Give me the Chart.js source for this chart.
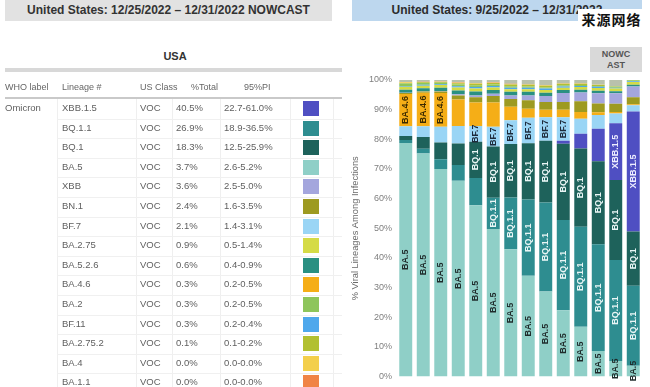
<!DOCTYPE html>
<html>
<head>
<meta charset="utf-8">
<script src="https://cdn.jsdelivr.net/npm/chart.js@4.4.0/dist/chart.umd.min.js"></script>
<style>
  html, body { margin: 0; padding: 0; background: #fff; }
  body { width: 650px; height: 387px; position: relative; overflow: hidden;
         font-family: "Liberation Sans", Arial, sans-serif; }
  .abs { position: absolute; }
  #leftTitle { left: 5px; top: 0; width: 327px; height: 21px; background: #e2e2e2;
               font-weight: bold; font-size: 12px; color: #333; text-align: center; line-height: 21px; }
  #rightTitle { left: 352px; top: 0; width: 290px; height: 21px; background: #bdd7ee;
                font-weight: bold; font-size: 12px; color: #2c2c2c; text-align: center; line-height: 21px; }
  #usa { left: 150px; top: 50px; width: 50px; text-align: center; font-weight: bold; font-size: 11px; color: #333; }
  #thickLine { left: 5px; top: 68px; width: 337px; height: 4px; background: #d8d8d8; }
  #headLine { left: 5px; top: 97px; width: 337px; height: 2px; background: #c9c9c9; }
  .cell { position: absolute; font-size: 9.5px; color: #606060; white-space: nowrap; }
  .head { position: absolute; font-size: 9px; color: #666; white-space: nowrap; top: 82px; }
  .vline { position: absolute; top: 99px; width: 1px; height: 288px; background: #efefef; }
  .hline { position: absolute; left: 57px; width: 285px; height: 1px; background: #f0f0f0; }
  .swatch { position: absolute; left: 303px; width: 16px; height: 15px; }
  #chartBox { left: 340px; top: 0; width: 310px; height: 387px; }
  #nowcast { left: 590px; top: 47px; width: 52px; height: 25px; background: #d9d9d9;
             font-weight: bold; font-size: 9px; line-height: 11px; color: #555; text-align: center;
             padding-top: 2px; box-sizing: border-box; }
  #watermark { left: 578px; top: 9px; width: 67px; height: 21px; background: #fff;
               font-family: "Noto Sans CJK SC", sans-serif; font-weight: bold; font-size: 14px;
               line-height: 21px; color: #111; text-align: center; letter-spacing: 1px; }
</style>
</head>
<body>
<div class="abs" id="chartBox"><canvas id="chart" width="310" height="387"></canvas></div>
<div class="abs" id="leftTitle">United States: 12/25/2022 – 12/31/2022 NOWCAST</div>
<div class="abs" id="rightTitle">United States: 9/25/2022 – 12/31/2022</div>
<div class="abs" id="usa">USA</div>
<div class="abs" id="thickLine"></div>
<div class="abs" id="headLine"></div>
<div id="table"></div>
<div class="abs" id="nowcast">NOWC<br>AST</div>
<div class="abs" id="watermark">来源网络</div>
<script>
// Nowcast table (left panel)
const tableLineages = ['XBB.1.5', 'BQ.1.1', 'BQ.1', 'BA.5', 'XBB', 'BN.1', 'BF.7', 'BA.2.75',
  'BA.5.2.6', 'BA.4.6', 'BA.2', 'BF.11', 'BA.2.75.2', 'BA.4', 'BA.1.1'];
const tableClass = ['VOC', 'VOC', 'VOC', 'VOC', 'VOC', 'VOC', 'VOC', 'VOC',
  'VOC', 'VOC', 'VOC', 'VOC', 'VOC', 'VOC', 'VOC'];
const tableTotal = ['40.5%', '26.9%', '18.3%', '3.7%', '3.6%', '2.4%', '2.1%', '0.9%',
  '0.6%', '0.3%', '0.3%', '0.3%', '0.1%', '0.0%', '0.0%'];
const tablePI = ['22.7-61.0%', '18.9-36.5%', '12.5-25.9%', '2.6-5.2%', '2.5-5.0%', '1.6-3.5%',
  '1.4-3.1%', '0.5-1.4%', '0.4-0.9%', '0.2-0.5%', '0.2-0.5%', '0.2-0.4%', '0.1-0.2%',
  '0.0-0.0%', '0.0-0.0%'];

// Lineage colours
const colors = {
  'BA.5': '#8fcfc7', 'BQ.1.1': '#2e8d90', 'BQ.1': '#1e625b', 'XBB.1.5': '#4f4fc2',
  'BF.7': '#9ad5f5', 'BA.4.6': '#f5ae17', 'BN.1': '#9d9a21', 'XBB': '#a4a6dd',
  'BA.2.75': '#d5db46', 'BA.5.2.6': '#2a9082', 'BA.2': '#8ec55b', 'BF.11': '#4ea8ec',
  'BA.2.75.2': '#b2c031', 'BA.4': '#f3cf4b', 'BA.1.1': '#f08446', 'Other': '#b9c1ad'
};

// Weekly proportions (%), week ending
const weeks = ['10/1/22', '10/8/22', '10/15/22', '10/22/22', '10/29/22', '11/5/22', '11/12/22',
  '11/19/22', '11/26/22', '12/3/22', '12/10/22', '12/17/22', '12/24/22', '12/31/22'];
const BA5     = [78.8, 75.2, 70.0, 66.0, 57.8, 49.8, 42.9, 34.0, 28.7, 22.4, 16.8, 8.6, 5.3, 3.7];
const BQ1_1   = [1.0, 1.6, 3.3, 5.3, 9.2, 10.5, 17.5, 25.7, 30.0, 30.4, 33.7, 36.0, 34.0, 26.9];
const BQ1     = [1.3, 4.0, 5.6, 7.3, 12.2, 17.3, 18.0, 19.0, 20.8, 25.7, 26.4, 28.0, 27.0, 18.3];
const XBB1_5  = [0, 0, 0, 0, 0, 0, 0, 0, 0, 1.0, 5.0, 11.0, 19.1, 40.5];
const BF7     = [3.3, 3.6, 5.3, 5.9, 5.3, 6.6, 8.0, 8.6, 7.9, 7.9, 5.0, 4.6, 3.3, 2.1];
const BA4_6   = [10.9, 11.3, 11.4, 8.9, 7.9, 8.2, 4.6, 3.0, 2.6, 2.6, 2.3, 0.9, 0.5, 0.3];
const BN1     = [0.3, 0.4, 0.5, 1.4, 1.8, 2.2, 2.6, 2.9, 2.6, 2.6, 3.6, 3.0, 2.8, 2.4];
const XBB     = [0.1, 0.1, 0.2, 0.4, 0.6, 0.8, 1.2, 1.6, 2.0, 3.0, 3.0, 3.4, 3.5, 3.6];
const BA5_2_6 = [1.0, 1.0, 1.1, 1.3, 1.3, 1.2, 1.2, 1.2, 1.1, 1.0, 0.9, 0.9, 0.7, 0.6];
const BA2_75  = [1.0, 0.9, 0.9, 1.0, 1.0, 0.9, 0.9, 0.9, 0.9, 0.8, 0.9, 0.9, 0.9, 0.9];
const BF11    = [0.3, 0.3, 0.3, 0.4, 0.5, 0.5, 0.5, 0.5, 0.5, 0.4, 0.4, 0.4, 0.3, 0.3];
const BA2     = [0.8, 0.6, 0.5, 0.6, 0.6, 0.5, 0.5, 0.4, 0.4, 0.4, 0.3, 0.3, 0.3, 0.3];
const BA2_75_2 = [0.2, 0.2, 0.2, 0.4, 0.5, 0.5, 0.6, 0.6, 0.6, 0.5, 0.4, 0.3, 0.2, 0.1];
const BA4     = [0.2, 0.1, 0.1, 0.2, 0.2, 0.1, 0.1, 0.1, 0.1, 0.1, 0.1, 0.1, 0.0, 0.0];
const BA1_1   = [0.1, 0.1, 0.1, 0.1, 0.1, 0.1, 0.1, 0.1, 0.1, 0.1, 0.1, 0.0, 0.0, 0.0];
const OTHER   = [0.7, 0.6, 0.5, 0.8, 1.0, 0.8, 1.3, 1.4, 1.7, 1.1, 1.1, 1.6, 2.1, 0.0];

const yTicks = [0, 10, 20, 30, 40, 50, 60, 70, 80, 90, 100];

// which bars carry a rotated label, per lineage
const barLabels = {
  'BA.5': [0, 1, 2, 3, 4, 5, 6, 7, 8, 9, 10, 11, 12, 13],
  'BQ.1.1': [5, 6, 7, 8, 9, 10, 11, 12, 13],
  'BQ.1': [4, 5, 6, 7, 8, 9, 10, 11, 12, 13],
  'XBB.1.5': [12, 13],
  'BF.7': [4, 5, 6, 7, 8, 9],
  'BA.4.6': [0, 1, 2]
};
const labelColors = { 'BA.5': '#1f2b2b', 'BQ.1.1': '#eaf6f6', 'BQ.1': '#eaf6f6',
  'XBB.1.5': '#eeeeff', 'BF.7': '#1d2a3a', 'BA.4.6': '#3a2a00' };

// build the table
const tbl = document.getElementById('table');
function add(cls, text, left, top, extra) {
  const d = document.createElement('div');
  d.className = cls;
  d.textContent = text || '';
  d.style.left = left + 'px';
  if (top !== null) d.style.top = top + 'px';
  if (extra) Object.assign(d.style, extra);
  tbl.appendChild(d);
  return d;
}
add('head', 'WHO label', 5, null);
add('head', 'Lineage #', 62, null);
add('head', 'US Class', 140, null);
add('head', '%Total', 191, null);
add('head', '95%PI', 244, null);
[57, 136, 172, 220, 290, 333].forEach(x => add('vline', '', x, null));

const rowH = 19.6;
tableLineages.forEach((lin, i) => {
  const top = 99 + i * rowH;
  const ty = top + 3;
  if (i > 0) add('hline', '', 57, top);
  if (i === 0) add('cell', 'Omicron', 5, ty);
  add('cell', lin, 62, ty);
  add('cell', tableClass[i], 140, ty);
  add('cell', tableTotal[i], 176, ty);
  add('cell', tablePI[i], 224, ty);
  add('swatch', '', 303, top + 2, { background: colors[lin] });
});

// stacked bar chart (right panel)
const series = [
  ['BA.5', BA5], ['BQ.1.1', BQ1_1], ['BQ.1', BQ1], ['XBB.1.5', XBB1_5], ['BF.7', BF7],
  ['BA.4.6', BA4_6], ['BN.1', BN1], ['XBB', XBB], ['BA.5.2.6', BA5_2_6], ['BA.2.75', BA2_75],
  ['BF.11', BF11], ['BA.2', BA2], ['BA.2.75.2', BA2_75_2], ['BA.4', BA4], ['BA.1.1', BA1_1],
  ['Other', OTHER]
];

const segmentLabels = {
  id: 'segmentLabels',
  afterDatasetsDraw(chart) {
    const ctx = chart.ctx;
    chart.data.datasets.forEach((ds, di) => {
      const bars = barLabels[ds.label];
      if (!bars) return;
      const meta = chart.getDatasetMeta(di);
      bars.forEach(i => {
        const p = meta.data[i].getProps(['x', 'y', 'base'], true);
        ctx.save();
        ctx.translate(p.x, (p.y + p.base) / 2);
        ctx.rotate(-Math.PI / 2);
        ctx.font = 'bold 9px "Liberation Sans", Arial, sans-serif';
        ctx.fillStyle = labelColors[ds.label];
        ctx.textAlign = 'center';
        ctx.textBaseline = 'middle';
        ctx.fillText(ds.label, 0, 0);
        ctx.restore();
      });
    });
  }
};

new Chart(document.getElementById('chart'), {
  type: 'bar',
  data: {
    labels: weeks,
    datasets: series.map(([name, vals]) => ({
      label: name,
      data: vals,
      backgroundColor: colors[name],
      borderWidth: 0,
      barPercentage: 0.74,
      categoryPercentage: 1.0
    }))
  },
  options: {
    responsive: false,
    animation: false,
    devicePixelRatio: 1,
    layout: { padding: { top: 80, bottom: 4, right: 8, left: 0 } },
    plugins: { legend: { display: false }, tooltip: { enabled: false } },
    scales: {
      x: { stacked: true, display: false },
      y: {
        stacked: true,
        min: 0,
        max: 100,
        afterBuildTicks: s => { s.ticks = yTicks.map(v => ({ value: v })); },
        ticks: { callback: v => v + '%', color: '#808080', font: { size: 9, family: 'Liberation Sans' }, padding: 5 },
        grid: { display: false, drawTicks: false },
        border: { display: false },
        title: {
          display: true,
          text: '% Viral Lineages Among Infections',
          color: '#6a6a6a',
          font: { size: 9.3, family: 'Liberation Sans' },
          padding: { top: 10, bottom: 0 }
        },
        afterFit: s => { s.width = 57; }
      }
    }
  },
  plugins: [segmentLabels]
});
</script>
</body>
</html>
